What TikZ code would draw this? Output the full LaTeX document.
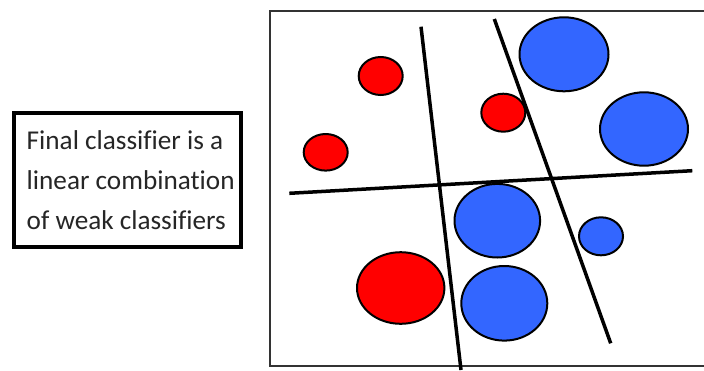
\documentclass[tikz,border=0pt]{standalone}
\usepackage{fontspec}
\setmainfont{Carlito}[Ligatures=NoCommon]
\begin{document}
\begin{tikzpicture}[x=1pt,y=-1pt,
  redpt/.style={draw=black,line width=2pt,fill={rgb,255:red,255;green,0;blue,0}},
  bluept/.style={draw=black,line width=2pt,fill={rgb,255:red,51;green,102;blue,255}},
  sep/.style={draw=black,line width=3.5pt},
  textbox/.style={draw=black,line width=4pt,fill=white,minimum width=227pt,minimum height=134pt,inner sep=0pt},
  boxtext/.style={inner sep=0pt,align=left,font=\fontsize{27.2}{40}\selectfont,text=black!85}]
\useasboundingbox (0,0) rectangle (704,370);
\fill[white] (0,0) rectangle (704,370);
% frame
\draw[line width=2pt,black!80] (704,11) -- (270,11) -- (270,366) -- (704,366);
% text box
\node[textbox] (box) at (127.2,180.2) {};
\node[boxtext] (label) at ([xshift=3.5pt]box.center) {Final classifier is a\\linear combination\\of weak classifiers};
% points
\draw[redpt] (380.7,76) ellipse [x radius=22,y radius=19];
\draw[redpt] (325.7,152.3) ellipse [x radius=22,y radius=18.3];
\draw[redpt] (503.3,112.7) ellipse [x radius=22,y radius=19];
\draw[redpt] (400.7,288) ellipse [x radius=43.7,y radius=35.8];
\draw[bluept] (564,54.3) ellipse [x radius=44.5,y radius=37];
\draw[bluept] (644,129) ellipse [x radius=44,y radius=36.7];
\draw[bluept] (497.3,220.7) ellipse [x radius=42.8,y radius=36.8];
\draw[bluept] (504.3,303.3) ellipse [x radius=43,y radius=37.3];
\draw[bluept] (601,236.3) ellipse [x radius=22,y radius=19];
% weak classifiers
\coordinate (a1) at (421,26.7);
\coordinate (a2) at (461,370);
\coordinate (b1) at (494.3,19);
\coordinate (b2) at (610.7,343.3);
\coordinate (c1) at (289.3,193.3);
\coordinate (c2) at (692.3,170.7);
\draw[sep] (a1) -- (a2);
\draw[sep] (b1) -- (b2);
\draw[sep] (c1) -- (c2);
\end{tikzpicture}
\end{document}
